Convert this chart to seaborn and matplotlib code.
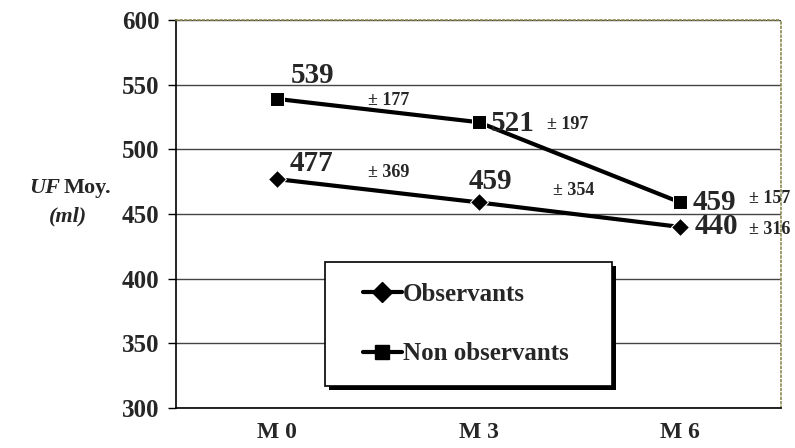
import matplotlib
matplotlib.use("Agg")
import matplotlib.pyplot as plt
import pandas as pd
import seaborn as sns
from matplotlib.lines import Line2D
from matplotlib.patches import Rectangle

# --- Données ---
mois = ["M 0", "M 3", "M 6"]
observants = [477, 459, 440]
non_observants = [539, 521, 459]
sd_observants = ["± 369", "± 354", "± 316"]
sd_non_observants = ["± 177", "± 197", "± 157"]
y_ticks = [300, 350, 400, 450, 500, 550, 600]

sns.set_theme(style="white")
plt.rcParams["font.family"] = ["Liberation Serif", "DejaVu Serif"]
plt.rcParams["font.weight"] = "bold"

df = pd.DataFrame({
    "mois": mois * 2,
    "x": list(range(len(mois))) * 2,
    "uf": observants + non_observants,
    "groupe": ["Observants"] * 3 + ["Non observants"] * 3,
})

W, H = 795, 448
fig = plt.figure(figsize=(W / 100, H / 100), dpi=100)
ax = fig.add_axes([176 / W, 1 - 408 / H, 605 / W, 388 / H])

sns.lineplot(data=df, x="x", y="uf", style="groupe", hue="groupe",
             palette={"Observants": "black", "Non observants": "black"},
             markers={"Observants": "D", "Non observants": "s"},
             dashes=False, lw=3, legend=False, ax=ax)
for ln, ms in zip(ax.lines, [9, 10]):
    ln.set_markersize(ms)

ax.set_xlim(-0.5, 2.5)
ax.set_ylim(300, 600)
ax.set_yticks(y_ticks)
ax.set_yticklabels([str(v) for v in y_ticks], fontsize=18, fontweight="bold")
ax.set_xticks([0, 1, 2])
ax.set_xticklabels(mois, fontsize=17, fontweight="bold")
ax.set_xticks([-0.5, 0.5, 1.5, 2.5], minor=True)
ax.tick_params(axis="x", which="major", length=0, pad=10)
ax.tick_params(axis="x", which="minor", length=6, width=1, color="black", direction="out")
ax.tick_params(axis="y", length=6, width=1, color="black", direction="out", left=True, pad=6)
ax.set_xlabel(""); ax.set_ylabel("")
ax.grid(axis="y", color="#444444", lw=1)
ax.grid(axis="x", visible=False)
for s in ["left", "bottom"]:
    ax.spines[s].set_color("black"); ax.spines[s].set_linewidth(1.2)
for s in ["top", "right"]:
    ax.spines[s].set_color("#8a8a50"); ax.spines[s].set_linestyle(":"); ax.spines[s].set_linewidth(1.2)

# --- Étiquettes des valeurs ---
val_pos = {
    "non": [(0.07, 557), (1.06, 520), (2.06, 459)],
    "obs": [(0.065, 489), (0.95, 475), (2.07, 440)],
}
sd_pos = {
    "non": [(0.45, 538), (1.34, 519), (2.34, 462)],
    "obs": [(0.45, 482), (1.37, 468), (2.34, 438)],
}
for key, vals, sds in [("non", non_observants, sd_non_observants),
                       ("obs", observants, sd_observants)]:
    for (x, y), v in zip(val_pos[key], vals):
        ax.text(x, y, str(v), fontsize=21, fontweight="bold",
                ha="left", va="center", clip_on=False)
    for (x, y), s in zip(sd_pos[key], sds):
        ax.text(x, y, s, fontsize=13, fontweight="bold",
                ha="left", va="center", clip_on=False)

# --- Légende (cadre avec ombre) ---
bx0, bx1, by0, by1 = 325, 612, 262, 386
def to_ax(px, py):
    return (px - 176) / 605, (408 - py) / 388
x0, y0 = to_ax(bx0, by1)
x1, y1 = to_ax(bx1, by0)
off_x, off_y = 4 / 605, 4 / 388
ax.add_patch(Rectangle((x0 + off_x, y0 - off_y), x1 - x0, y1 - y0, transform=ax.transAxes,
                       facecolor="black", edgecolor="none", zorder=5))
ax.add_patch(Rectangle((x0, y0), x1 - x0, y1 - y0, transform=ax.transAxes,
                       facecolor="white", edgecolor="black", lw=1.2, zorder=6))

handles = [
    Line2D([], [], color="black", lw=3, marker="D", markersize=10),
    Line2D([], [], color="black", lw=3, marker="s", markersize=10),
]
lx, ly = to_ax(363, 283)
leg = ax.legend(handles, ["Observants", "Non observants"],
                loc="upper left", bbox_to_anchor=(lx, ly), frameon=False,
                prop={"size": 18, "weight": "bold"}, handlelength=1.55,
                handletextpad=0.05, labelspacing=1.46, borderpad=0,
                borderaxespad=0)
leg.set_zorder(7)

# --- Titre de l'axe Y ---
fig.text(29 / W, 1 - 188 / H, "UF", fontsize=16, fontweight="bold",
         fontstyle="italic", ha="left", va="center")
fig.text(64 / W, 1 - 188 / H, "Moy.", fontsize=16, fontweight="bold",
         ha="left", va="center")
fig.text(68 / W, 1 - 216 / H, "(ml)", fontsize=16, fontweight="bold",
         fontstyle="italic", ha="center", va="center")

fig.savefig("out.png", dpi=100)
